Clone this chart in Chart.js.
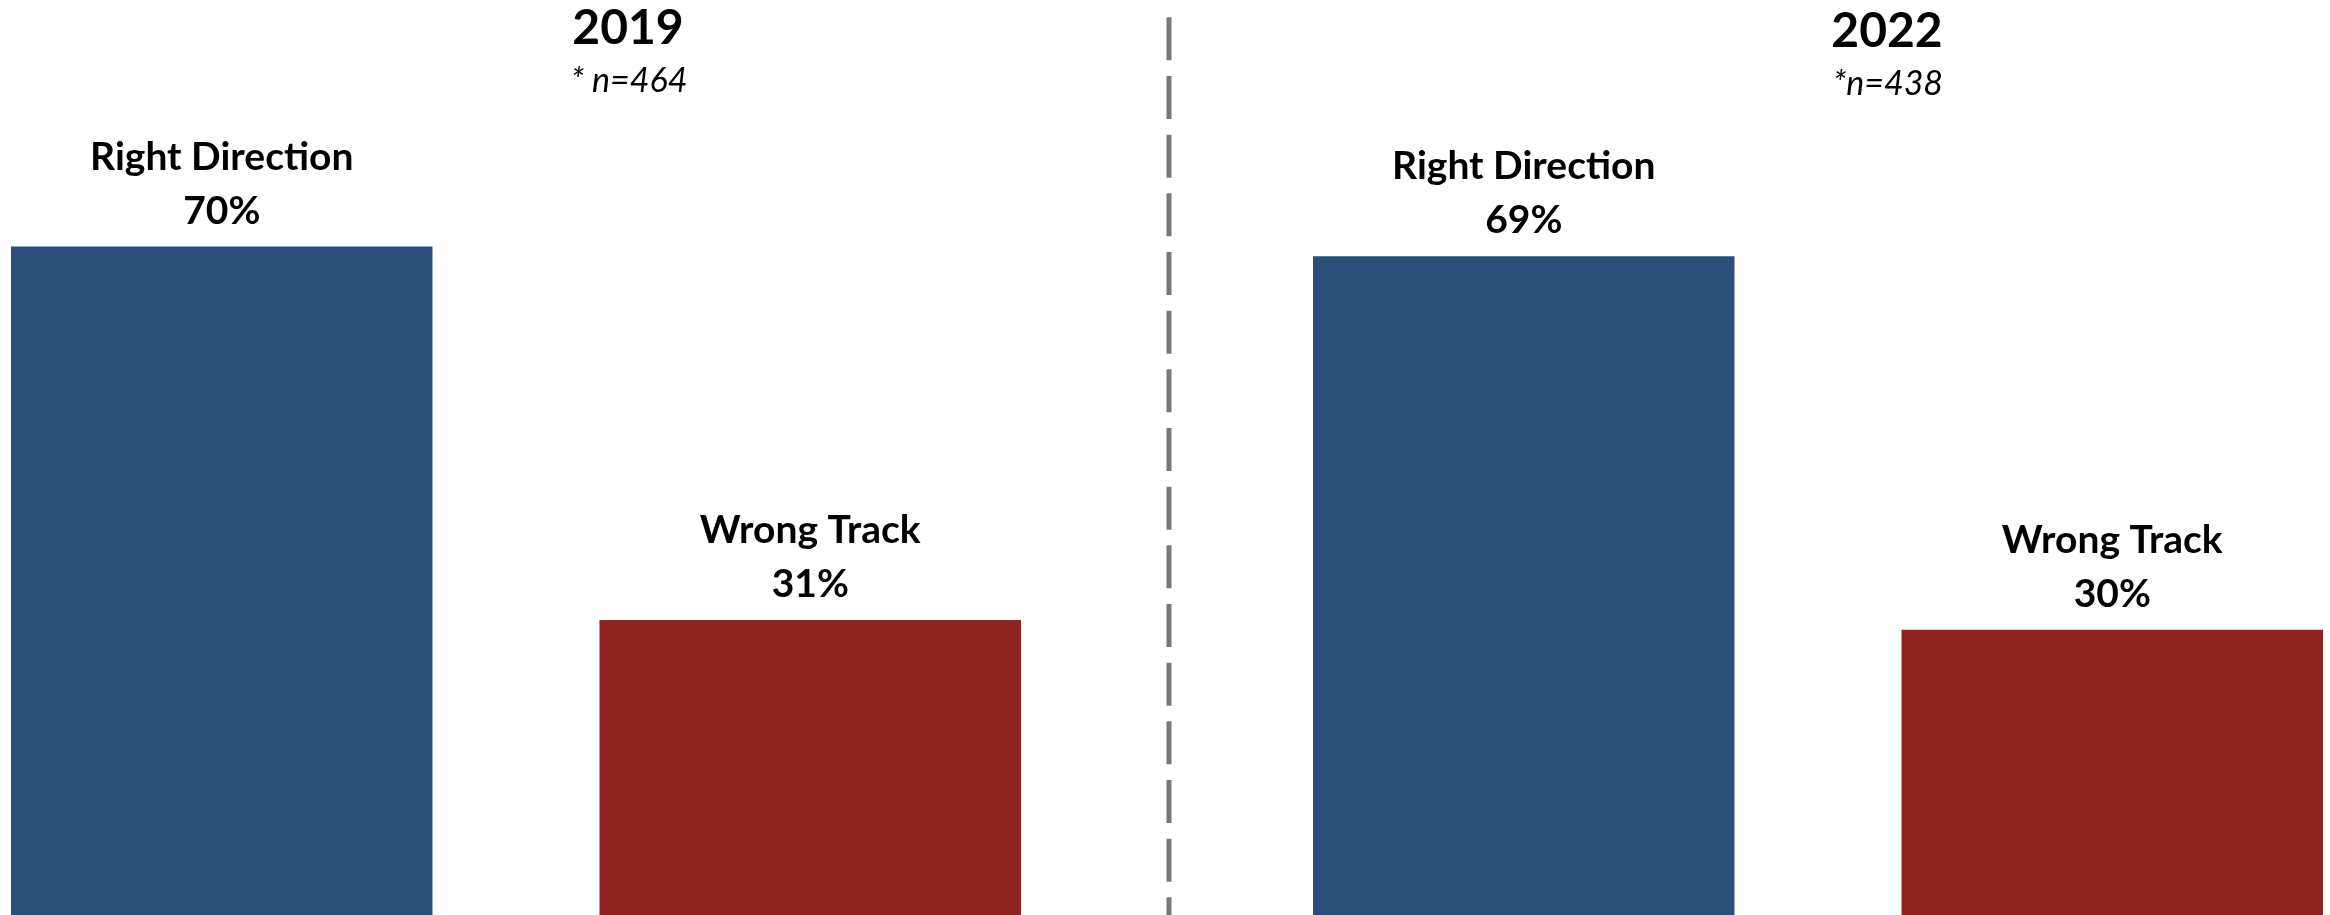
<!DOCTYPE html>
<html>
<head>
<meta charset="utf-8">
<script src="https://cdn.jsdelivr.net/npm/chart.js@4.4.1/dist/chart.umd.min.js"></script>
<style>
  html, body { margin: 0; padding: 0; background: #ffffff; }
  #wrap { position: relative; width: 2330px; height: 915px; overflow: hidden; background: #ffffff; }
  #c { position: absolute; left: -135px; top: 0; }
</style>
</head>
<body>
<div id="wrap"><canvas id="c" width="2604" height="917"></canvas></div>
<script>
// ---- data ----
const categories = ['2019', '2022'];
const sampleNotes = ['* n=464', '*n=438'];
const seriesNames = ['Right Direction', 'Wrong Track'];
const rightDirection = [70, 69];
const wrongTrack = [31, 30];

// ---- styles ----
const BLUE = '#2A4E77';
const RED = '#8E2322';
const FONT = 'Lato, "Open Sans", "Liberation Sans", sans-serif';

const annotatePlugin = {
  id: 'annotate',
  afterDatasetsDraw(chart) {
    const ctx = chart.ctx;
    ctx.save();
    ctx.fillStyle = '#000000';
    ctx.textAlign = 'center';
    ctx.textBaseline = 'alphabetic';
    // bar labels
    chart.data.datasets.forEach((ds, i) => {
      const meta = chart.getDatasetMeta(i);
      meta.data.forEach((el, j) => {
        ctx.font = 'bold 39px ' + FONT;
        ctx.fillText(seriesNames[i], el.x, el.y - 77);
        ctx.fillText(ds.data[j] + '%', el.x, el.y - 23);
      });
    });
    // panel titles
    const xs = chart.scales.x;
    const titleOffsets = [112, 69];
    const titleBase = [44, 47];
    categories.forEach((cat, j) => {
      const cx = xs.getPixelForValue(j) + titleOffsets[j];
      ctx.font = 'bold 48px ' + FONT;
      ctx.fillText(cat, cx, titleBase[j]);
      ctx.font = 'italic 34px ' + FONT;
      ctx.fillText(sampleNotes[j], cx + 1, titleBase[j] + 48);
    });
    // dashed divider
    const mid = (xs.getPixelForValue(0) + xs.getPixelForValue(1)) / 2 + 2;
    ctx.strokeStyle = '#77777B';
    ctx.lineWidth = 5;
    ctx.setLineDash([43, 15.67]);
    ctx.beginPath();
    ctx.moveTo(mid, 17.3);
    ctx.lineTo(mid, chart.height);
    ctx.stroke();
    ctx.restore();
  }
};

new Chart(document.getElementById('c'), {
  type: 'bar',
  data: {
    labels: categories,
    datasets: [
      { label: seriesNames[0], data: rightDirection, backgroundColor: BLUE, borderWidth: 0 },
      { label: seriesNames[1], data: wrongTrack, backgroundColor: RED, borderWidth: 0 }
    ]
  },
  options: {
    responsive: false,
    animation: false,
    devicePixelRatio: 1,
    layout: { padding: 0 },
    datasets: { bar: { categoryPercentage: 0.904, barPercentage: 0.7162 } },
    plugins: { legend: { display: false }, tooltip: { enabled: false }, title: { display: false } },
    scales: {
      x: { display: false, offset: true },
      y: { display: false, min: 0, max: 95.75 }
    }
  },
  plugins: [annotatePlugin]
});
</script>
</body>
</html>
